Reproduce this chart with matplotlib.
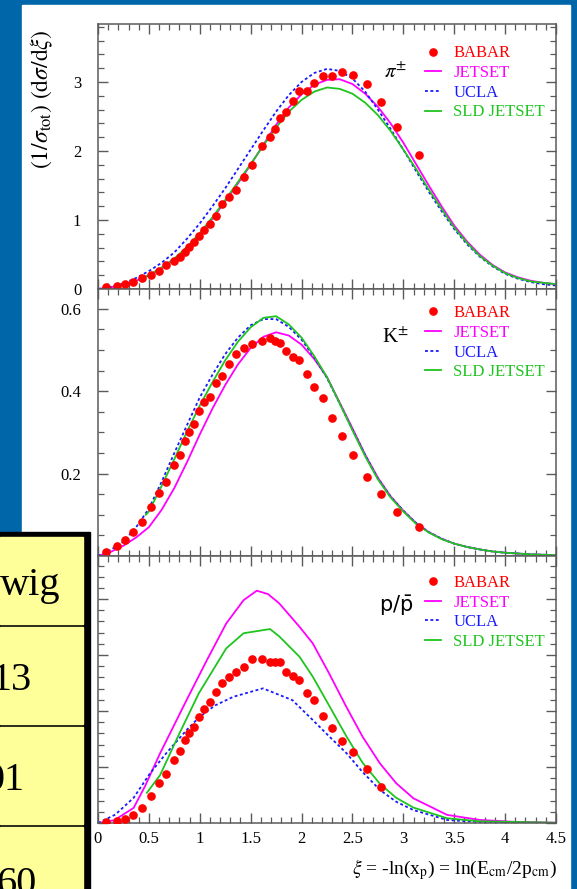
import matplotlib
matplotlib.use('Agg')
import matplotlib.pyplot as plt
from matplotlib.patches import Rectangle
from matplotlib.ticker import MultipleLocator, FuncFormatter

plt.rcParams['font.family'] = ['Liberation Serif', 'DejaVu Serif']
plt.rcParams['mathtext.fontset'] = 'stix'

# BABAR xi bin centres (same for all three species)
xi_bins = [0.078, 0.19, 0.265, 0.34, 0.428, 0.516, 0.60, 0.67, 0.745, 0.804,
           0.853, 0.895, 0.944, 0.993, 1.042, 1.098, 1.157, 1.222, 1.288, 1.36,
           1.434, 1.516, 1.611, 1.686, 1.735, 1.791, 1.85, 1.915, 1.974, 2.05,
           2.127, 2.209, 2.297, 2.40, 2.51, 2.64, 2.78, 2.94, 3.15]

pi_babar = [0.024, 0.048, 0.077, 0.106, 0.155, 0.203, 0.266, 0.348, 0.406, 0.469,
            0.541, 0.614, 0.686, 0.773, 0.855, 0.942, 1.058, 1.232, 1.338, 1.435,
            1.628, 1.797, 2.072, 2.208, 2.314, 2.473, 2.57, 2.73, 2.874, 2.874,
            2.98, 3.08, 3.09, 3.14, 3.10, 2.97, 2.71, 2.35, 1.94]
k_babar = [0.009, 0.024, 0.040, 0.059, 0.083, 0.118, 0.153, 0.180, 0.222, 0.244,
           0.278, 0.301, 0.321, 0.353, 0.373, 0.387, 0.420, 0.438, 0.466, 0.490,
           0.505, 0.515, 0.521, 0.528, 0.523, 0.518, 0.498, 0.484, 0.475, 0.442,
           0.410, 0.383, 0.336, 0.292, 0.244, 0.191, 0.151, 0.106, 0.071]
p_babar = [0.0005, 0.0007, 0.0014, 0.0029, 0.0052, 0.0096, 0.0142, 0.0175, 0.0225, 0.0258,
           0.0296, 0.0320, 0.0342, 0.0377, 0.0406, 0.0433, 0.0467, 0.0499, 0.0520, 0.0540,
           0.0558, 0.0585, 0.0586, 0.0576, 0.0576, 0.0574, 0.0538, 0.0525, 0.0511, 0.0463,
           0.0439, 0.0383, 0.0338, 0.0294, 0.0252, 0.0192, 0.0130]

grid = [0.0, 0.125, 0.25, 0.375, 0.5, 0.625, 0.75, 0.875, 1.0, 1.125, 1.25, 1.375,
        1.5, 1.625, 1.75, 1.875, 2.0, 2.125, 2.25, 2.375, 2.5, 2.625, 2.75, 2.875,
        3.0, 3.125, 3.25, 3.375, 3.5, 3.625, 3.75, 3.875, 4.0, 4.125, 4.25, 4.375, 4.5]
sld_grid = [0.47] + grid[4:]

pi_jetset = [0.0, 0.025, 0.06, 0.12, 0.2, 0.3, 0.43, 0.6, 0.79, 1.02, 1.27, 1.53,
             1.80, 2.09, 2.38, 2.63, 2.82, 2.96, 3.03, 3.04, 2.97, 2.83, 2.64, 2.40,
             2.12, 1.81, 1.50, 1.20, 0.92, 0.69, 0.50, 0.35, 0.24, 0.17, 0.12, 0.09, 0.07]
pi_ucla = [0.0, 0.03, 0.08, 0.16, 0.26, 0.38, 0.53, 0.73, 0.95, 1.2, 1.46, 1.74,
           2.02, 2.3, 2.57, 2.81, 3.0, 3.13, 3.19, 3.16, 3.05, 2.86, 2.6, 2.32,
           2.02, 1.71, 1.41, 1.13, 0.87, 0.65, 0.47, 0.33, 0.22, 0.15, 0.10, 0.07, 0.05]
pi_sld = [0.18, 0.2, 0.31, 0.44, 0.61, 0.81, 1.04, 1.29, 1.55,
          1.81, 2.08, 2.34, 2.57, 2.74, 2.86, 2.92, 2.9, 2.83, 2.7, 2.52, 2.29,
          2.02, 1.74, 1.44, 1.16, 0.89, 0.67, 0.48, 0.34, 0.23, 0.16, 0.11, 0.09, 0.07]

k_jetset = [0.0, 0.01, 0.025, 0.045, 0.07, 0.112, 0.165, 0.228, 0.295, 0.358, 0.415, 0.465,
            0.505, 0.532, 0.543, 0.535, 0.513, 0.478, 0.434, 0.372, 0.31, 0.246, 0.19, 0.145,
            0.11, 0.08, 0.058, 0.042, 0.03, 0.022, 0.016, 0.011, 0.008, 0.006, 0.004, 0.003, 0.002]
k_ucla = [0.0, 0.015, 0.035, 0.07, 0.115, 0.18, 0.25, 0.318, 0.385, 0.44, 0.49, 0.53,
          0.56, 0.575, 0.575, 0.556, 0.525, 0.482, 0.432, 0.37, 0.307, 0.245, 0.188, 0.144,
          0.11, 0.08, 0.058, 0.042, 0.03, 0.022, 0.016, 0.011, 0.008, 0.006, 0.004, 0.003, 0.002]
k_sld = [0.10, 0.108, 0.17, 0.235, 0.302, 0.365, 0.422, 0.475, 0.52,
         0.555, 0.578, 0.582, 0.562, 0.53, 0.485, 0.434, 0.37, 0.305, 0.242, 0.186, 0.142,
         0.108, 0.078, 0.057, 0.041, 0.03, 0.022, 0.016, 0.011, 0.008, 0.006, 0.004, 0.003, 0.002]

p_jetset_x = [0.0, 0.16, 0.35, 0.46, 0.61, 0.87, 1.07, 1.26, 1.43, 1.56, 1.67, 1.78, 1.98,
              2.11, 2.27, 2.44, 2.6, 2.77, 2.93, 3.1, 3.43, 3.75, 4.1, 4.5]
p_jetset = [0.0, 0.001, 0.0054, 0.013, 0.0249, 0.0439, 0.0582, 0.0713, 0.0796, 0.083, 0.0818,
            0.0785, 0.0701, 0.0642, 0.0535, 0.0415, 0.0308, 0.0213, 0.0142, 0.0088, 0.0029,
            0.0011, 0.0004, 0.0001]
p_ucla_x = [0.0, 0.17, 0.35, 0.51, 0.67, 0.87, 1.0, 1.15, 1.33, 1.62, 1.91, 2.11, 2.27,
            2.44, 2.6, 2.77, 2.93, 3.1, 3.43, 3.75, 4.5]
p_ucla = [0.0, 0.003, 0.009, 0.0177, 0.0249, 0.0332, 0.038, 0.042, 0.0451, 0.0481, 0.0439,
          0.0368, 0.031, 0.025, 0.0182, 0.0118, 0.0076, 0.0046, 0.0011, 0.0003, 0.0]
p_sld_x = [0.48, 0.61, 0.8, 0.99, 1.26, 1.43, 1.69, 1.78, 1.98, 2.11, 2.27, 2.44, 2.6,
           2.77, 2.93, 3.1, 3.43, 3.75, 4.5]
p_sld = [0.0108, 0.0171, 0.032, 0.0463, 0.0624, 0.0678, 0.0693, 0.0667, 0.0594, 0.0523,
         0.042, 0.031, 0.0215, 0.014, 0.009, 0.0055, 0.0017, 0.0006, 0.0001]

labels = ['BABAR', 'JETSET', 'UCLA', 'SLD JETSET']
particles = [r'$\pi^{\pm}$', r'K$^{\pm}$', r'$\mathrm{p}/\bar{\mathrm{p}}$']

# table that sits over the slide (only its right column shows)
cell_texts = ['wig', '13', '01', '60']

panels = [
    (pi_babar, (grid, pi_jetset), (grid, pi_ucla), (sld_grid, pi_sld)),
    (k_babar, (grid, k_jetset), (grid, k_ucla), (sld_grid, k_sld)),
    (p_babar, (p_jetset_x, p_jetset), (p_ucla_x, p_ucla), (p_sld_x, p_sld)),
]
ylims = [3.84, 0.648, 0.0954]
ymajor = [1, 0.2, 0.02]
yminor = [0.2, 0.05, 0.004]
leg_y = [0.919, 0.939, 0.929]

W, H = 577, 889
fig = plt.figure(figsize=(W / 100, H / 100), dpi=100)
fig.patch.set_facecolor('#0066aa')

# white slide panel
bg = fig.add_axes([0, 0, 1, 1], zorder=-1)
bg.set_xlim(0, W)
bg.set_ylim(H, 0)
bg.axis('off')
bg.add_patch(Rectangle((22, 5), 548, H, color='white'))

red, mag, blue, green = '#ff0000', '#ff00ff', '#1a1aff', '#1fc41f'
spine_col = '#5a5a5a'

tops = [24, 289, 556]
bots = [289, 556, 823]
for i, (babar, jet, ucla, sld) in enumerate(panels):
    ax = fig.add_axes([98 / W, 1 - bots[i] / H, 458 / W, (bots[i] - tops[i]) / H])
    l2, = ax.plot(*jet, color=mag, lw=1.3)
    l3, = ax.plot(*ucla, color=blue, lw=1.3, ls=(0, (1.6, 1.4)))
    l4, = ax.plot(*sld, color=green, lw=1.3)
    l1, = ax.plot(xi_bins[:len(babar)], babar, 'o', color=red, ms=5.2, zorder=4)

    ax.set_xlim(0, 4.5)
    ax.set_ylim(0, ylims[i])
    ax.xaxis.set_major_locator(MultipleLocator(0.5))
    ax.xaxis.set_minor_locator(MultipleLocator(0.1))
    ax.yaxis.set_major_locator(MultipleLocator(ymajor[i]))
    ax.yaxis.set_minor_locator(MultipleLocator(yminor[i]))
    ax.xaxis.set_major_formatter(FuncFormatter(lambda v, p: f'{v:g}'))
    if i == 0:
        ax.yaxis.set_major_formatter(FuncFormatter(lambda v, p: f'{v:g}'))
    else:
        # the lower zero label sits under the table in the slide
        ax.yaxis.set_major_formatter(FuncFormatter(lambda v, p: f'{v:g}' if v > 0 else ''))
    ax.tick_params(which='both', direction='in', top=True, right=True,
                   color=spine_col, labelsize=12, labelcolor='black')
    ax.tick_params(which='major', length=7, width=1.0)
    ax.tick_params(which='minor', length=4, width=0.9)
    ax.tick_params(axis='y', pad=12, labelleft=(i < 2))
    ax.tick_params(axis='x', pad=6, labelbottom=(i == 2))
    for s in ax.spines.values():
        s.set_color(spine_col)
        s.set_linewidth(1.1)

    ax.legend([l1, l2, l3, l4], labels, loc='upper left',
              bbox_to_anchor=(0.714, leg_y[i]), frameon=False, fontsize=12,
              handlelength=0.95, handletextpad=0.75, labelspacing=0.22,
              borderpad=0, borderaxespad=0, numpoints=1, labelcolor='linecolor')
    kw = dict(math_fontfamily='dejavusans') if i == 2 else {}
    ax.text(0.65, 0.815, particles[i], transform=ax.transAxes, fontsize=15,
            ha='center', va='center', **kw)

fig.text(0.073, 0.888, r'$(1/\sigma_{\rm tot})\ (\mathrm{d}\sigma/\mathrm{d}\xi)$',
         rotation=90, ha='center', va='center', fontsize=17)
fig.text(557 / W, 1 - 870 / H,
         r'$\xi$ = -ln(x$_{\rm p}$) = ln(E$_{\rm cm}$/2p$_{\rm cm}$)',
         ha='right', va='center', fontsize=14)

# overlaid table
tab = fig.add_axes([0, 0, 1, 1], zorder=10)
tab.set_xlim(0, W)
tab.set_ylim(H, 0)
tab.axis('off')
tab.add_patch(Rectangle((0, 532), 90, H - 532, color='black'))
row_tops = [537, 627, 727, 827]
row_bots = [624, 724, 824, H + 5]
text_right = [60, 32, 25, 37]
text_base = [595, 690, 790, 894]
for j, t in enumerate(cell_texts):
    tab.add_patch(Rectangle((0, row_tops[j]), 83, row_bots[j] - row_tops[j],
                            color='#ffff99'))
    tab.text(text_right[j], text_base[j], t, ha='right', va='baseline',
             fontsize=29, color='black')

fig.savefig('out.png', dpi=100, facecolor=fig.get_facecolor())
